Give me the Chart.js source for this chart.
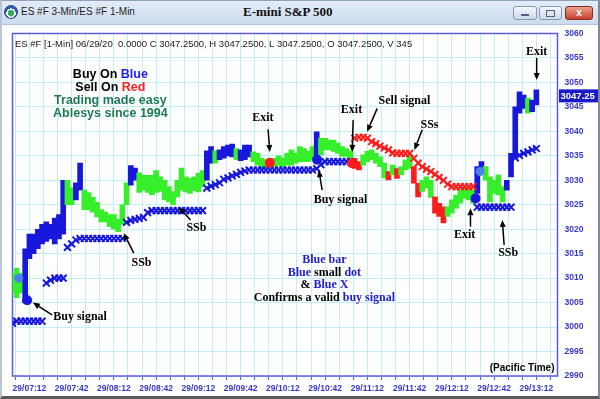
<!DOCTYPE html>
<html>
<head>
<meta charset="utf-8">
<script src="https://cdn.jsdelivr.net/npm/chart.js@4.4.1/dist/chart.umd.min.js"></script>
<style>
  html, body { margin: 0; padding: 0; background: #fff; }
  #win { position: relative; width: 600px; height: 399px; overflow: hidden; background: #fff; }
  #chart { position: absolute; left: 0; top: 0; }
  #titlebar { position: absolute; left: 0; top: 0; width: 600px; height: 24px;
    background: linear-gradient(#e4edf8, #ccdbef); border-bottom: 1px solid #b4c4da;
    font-family: "Liberation Sans", Arial, sans-serif; }
  #icon { position: absolute; left: 4px; top: 5px; width: 12px; height: 12px; border-radius: 50%;
    background: radial-gradient(circle at 50% 60%, #3fae5a 0 35%, #fff 36% 50%, #2b5fb0 51%); border: 1px solid #254a80; }
  #wtitle { position: absolute; left: 21px; top: 0; line-height: 24px; font-size: 10px; color: #1e1e1e; }
  #ctitle { position: absolute; left: 243px; top: 0; line-height: 24px; font-size: 13px; font-weight: bold;
    font-family: "Liberation Serif", "Times New Roman", serif; color: #111; }
  .btn { position: absolute; top: 6px; height: 12px; border: 1px solid #8797b2; border-radius: 3px;
    background: linear-gradient(#f4f7fb, #cfdaea); }
  #bmin { left: 513px; width: 22px; }
  #bmax { left: 539px; width: 21px; }
  #bclose { left: 565px; width: 26px; background: linear-gradient(#eaa08e, #c7402c); border-color: #8b2a1e;
    color: #fff; font-size: 10px; font-weight: bold; text-align: center; line-height: 12px; }
  #bmin::after { content: ""; position: absolute; left: 7px; top: 7px; width: 8px; height: 2px; background: #51627c; }
  #bmax::after { content: ""; position: absolute; left: 6px; top: 3px; width: 7px; height: 5px; border: 1px solid #51627c; }
  #frame { position: absolute; left: 0; top: 0; width: 600px; height: 399px; box-sizing: border-box;
    border-left: 2px solid #b9c6d8; border-right: 2px solid #7f8a99; border-bottom: 3px solid #5a5a5a;
    border-top: 1px solid #8fa0b8; pointer-events: none; }
</style>
</head>
<body>
<div id="win">
  <canvas id="chart" width="600" height="399"></canvas>
  <div id="titlebar">
    <div id="icon"></div>
    <span id="wtitle">ES #F 3-Min/ES #F 1-Min</span>
    <span id="ctitle">E-mini S&amp;P 500</span>
    <div class="btn" id="bmin"></div>
    <div class="btn" id="bmax"></div>
    <div class="btn" id="bclose">x</div>
  </div>
  <div id="frame"></div>
</div>
<script>
// 3-minute bars, minutes after 07:00 (index * 3)
const priceLow = [
  3007, 3006, 3007, 3005, 3014, 3015, 3016, 3017, 3017.5, 3018, 3017, 3018, 3019, 3025, 3025, 3026,
  3028, 3024, 3024, 3023.5, 3022.5, 3021.5, 3021.5, 3020.5, 3020, 3019.5, 3021, 3025, 3029, 3030,
  3027.5, 3028, 3027.5, 3027, 3027.5, 3027.7, 3026, 3025.6, 3025, 3026.6, 3028, 3027.6, 3027.3,
  3027.9, 3027.6, 3028.7, 3030, 3033.5, 3033.5, 3034.2, 3034.5, 3035, 3034.8, 3034.2, 3034, 3034.2,
  3034.8, 3033.8, 3033.1, 3032.4, 3032.4, 3032.8, 3032.8, 3033, 3032.8, 3033.1, 3033.1, 3033.5,
  3033.8, 3033.8, 3033.8, 3034.2, 3033.8, 3035.2, 3036.2, 3036.2, 3035.9, 3035.5, 3034.9, 3034.9,
  3033.5, 3032.4, 3032.1, 3033.1, 3033.8, 3034.2, 3033.5, 3032.8, 3030.5, 3030.1, 3031.1, 3030.4,
  3031.1, 3032.1, 3032.4, 3029.4, 3026.6, 3027.7, 3028.4, 3026.5, 3023.3, 3022.6, 3021.3, 3022.6,
  3023.3, 3024.3, 3025.3, 3026.3, 3026, 3025.3, 3027.3, 3031.4, 3030, 3025.6, 3027.3, 3027, 3025.6,
  3028, 3030.7, 3034.8, 3043.7, 3044.7, 3043.7, 3044, 3045.4
];
const priceHigh = [
  3011, 3012, 3011, 3016, 3019, 3019, 3020, 3021, 3021.5, 3021, 3022.3, 3023, 3030, 3030, 3028.5, 3029.5,
  3033.5, 3028, 3027.5, 3026.5, 3025.5, 3024, 3023.5, 3023, 3023, 3022, 3025, 3029.5, 3033, 3032.5,
  3031.5, 3031, 3031, 3031, 3032, 3030.7, 3030, 3028.7, 3027.7, 3030, 3032.5, 3030.7, 3030.4,
  3030.7, 3031.4, 3032, 3036, 3036.9, 3036, 3036.2, 3036.9, 3037.2, 3037.4, 3036.5, 3036.2, 3037.2,
  3037.2, 3035.8, 3035.5, 3034.5, 3034.2, 3034.5, 3034.5, 3035, 3034.6, 3035.5, 3036.2, 3035.5,
  3036.9, 3036.5, 3035.9, 3036.9, 3039.9, 3038.6, 3038.6, 3038.2, 3038.2, 3037.6, 3036.9, 3036.5,
  3036, 3034.5, 3033.8, 3035.2, 3035.9, 3036.2, 3035.5, 3034.8, 3033.5, 3031.8, 3033.1, 3032.4,
  3032.8, 3034.2, 3035.2, 3032.8, 3029.4, 3030, 3030.7, 3030, 3026.6, 3025.3, 3024.6, 3024.6,
  3026, 3027, 3028, 3028.4, 3028.7, 3028, 3032.8, 3033.8, 3032.8, 3030.7, 3030, 3031.1, 3028.7,
  3030, 3035.5, 3045, 3048.1, 3047.4, 3046.8, 3046.4, 3048.5
];
// g = neutral, b = buy, r = sell
const barState = ('ggg bbbbbbbbbb gg bb ggggggggggg bb gggggggggggggggg bb g bbbb g bbb ggggggggggggggg b ' +
  'gggggggg rr gggggg r g r ggg rr ggg rrr ggggggg bb ggggg bbbbb g bb').replace(/ /g, '').split('');

// trailing stops (X markers) on the same 3-minute grid
const buyStop = [
  3000.8, 3001.2, 3001.2, 3001.2, 3001.2, 3001.2, 3001.2, 3001.2,
  3009, 3009.6, 3010, 3010, 3010,
  3016.3, 3017, 3017.8,
  3018.1, 3018.1, 3018.1, 3018.1, 3018.1, 3018.1, 3018.1, 3018.1, 3018.1, 3018.1, 3018.1,
  3021.4, 3021.8, 3022, 3022.2, 3022.4, 3023.4,
  3023.8, 3023.8, 3023.8, 3023.8, 3023.8, 3023.8, 3023.8, 3023.8, 3023.8, 3023.8, 3023.8, 3023.8, 3023.8,
  3028.4, 3028.8, 3029.1, 3029.5, 3030.2, 3030.5, 3030.9, 3031.2, 3031.6, 3031.9,
  3032.1, 3032.1, 3032.1, 3032.1, 3032.1, 3032.1, 3032.1, 3032.1, 3032.1, 3032.1, 3032.1, 3032.1, 3032.1, 3032.1, 3032.1, 3032.1,
  3032.4, 3033.2,
  3033.8, 3033.8, 3033.8, 3033.8, 3033.8, 3033.8, 3033.8,
  null, null, null, null, null, null, null, null, null, null, null, null, null, null, null,
  null, null, null, null, null, null, null, null, null, null, null, null, null, null,
  3024.5, 3024.5, 3024.5, 3024.5, 3024.5, 3024.5, 3024.5, 3024.5, 3024.5,
  3034.6, 3035.1, 3035.5, 3035.8, 3036.2, 3036.5
];
const sellStop = [
  null, null, null, null, null, null, null, null, null, null, null, null, null, null, null, null, null,
  null, null, null, null, null, null, null, null, null, null, null, null, null, null, null, null, null,
  null, null, null, null, null, null, null, null, null, null, null, null, null, null, null, null, null,
  null, null, null, null, null, null, null, null, null, null, null, null, null, null, null, null, null,
  null, null, null, null, null, null, null, null, null, null, null, null, null,
  3038.6, 3038.8, 3038.8, 3038.6, 3037.9, 3037.5, 3037, 3036.6, 3036.2, 3035.6,
  3035.5, 3035.5, 3035.5, 3035.5, 3034.5, 3033.5, 3032.8, 3032.3, 3031.8, 3031.2,
  3030.6, 3030, 3029.2, 3028.7, 3028.7, 3028.7, 3028.7, 3028.7, 3028.7,
  null, null, null, null, null, null, null, null, null, null, null, null, null, null, null
];

// signal dots
const dotMinutes = [4.4, 10.4, 182.7, 216.3, 241.2, 328.8, 332];
const dotPrices = [3010, 3005.5, 3033.6, 3034.2, 3033.5, 3026.3, 3031.8];
const dotKinds = ['pre', 'buy', 'exit', 'buy', 'exit', 'buy', 'pre'];

const xTickLabels = ['29/07:12', '29/07:42', '29/08:12', '29/08:42', '29/09:12', '29/09:42', '29/10:12',
  '29/10:42', '29/11:12', '29/11:42', '29/12:12', '29/12:42', '29/13:12'];
const lastPrice = 3047.25;
const headerText = 'ES #F [1-Min] 06/29/20  0.0000 C 3047.2500, H 3047.2500, L 3047.2500, O 3047.2500, V 345';

// chart notes: text at (minute, price); arrows tail -> head
const notes = [
  ['Buy signal', 48.0, 3002.0], ['SSb', 91.6, 3013.2], ['SSb', 130.6, 3020.2],
  ['Exit', 177.8, 3042.7], ['Exit', 240.7, 3044.4], ['Sell signal', 278.3, 3046.2],
  ['SSs', 296.1, 3041.3], ['Buy signal', 232.9, 3026.0], ['Exit', 321, 3018.8],
  ['SSb', 352, 3015.1], ['Exit', 372.2, 3056.3]
];
const arrows = [
  [28.1, 3002.5, 14.5, 3005.0], [86.1, 3015.1, 79, 3019.2], [126.4, 3021.9, 118, 3024.5],
  [181.5, 3040.4, 182.7, 3035.8], [241.9, 3042.3, 241.2, 3035.8], [259, 3044.7, 251.8, 3039.9],
  [290.9, 3040.3, 285.4, 3036.2], [219.9, 3028.0, 217.5, 3032.1], [325.2, 3020.5, 325.2, 3024.3],
  [349.1, 3016.8, 347.8, 3021.9], [372.2, 3055.0, 372.2, 3050.5]
];

const BLUE = '#1818dc', GREEN = '#36ef2a', RED = '#ff1c1c', LIGHTBLUE = '#4f7ef0';
const TXTBLUE = '#2020d0', TEAL = '#1c7a55', BLACK = '#000';
const legendLines = [
  [['Buy On ', BLACK], ['Blue', '#1c1cf0']],
  [['Sell On ', BLACK], ['Red', RED]],
  [['Trading made easy', TEAL]],
  [['Ablesys since 1994', TEAL]]
];
const legendPos = [69.5, [3051.7, 3049.0, 3046.3, 3043.6]];
const confirmLines = [
  [['Blue bar', TXTBLUE]],
  [['Blue', TXTBLUE], [' small ', BLACK], ['dot', TXTBLUE]],
  [['& ', BLACK], ['Blue X', TXTBLUE]],
  [['Confirms a valid ', BLACK], ['buy signal', TXTBLUE]]
];
const confirmPos = [221.5, [3013.7, 3011.1, 3008.6, 3006.0]];

const stateColor = { g: GREEN, b: BLUE, r: RED };
const dotColor = { pre: LIGHTBLUE, buy: BLUE, exit: RED };
const GRID = '#c2eef5', AXIS = '#5a5ae2', AXISTEXT = '#3636cc';

const barMinutes = priceLow.map((_, i) => i * 3);
const onGrid = ys => barMinutes.map((t, i) => ({ x: t, y: ys[i] }));

const minorTicks = [];
for (let t = 2; t <= 387; t += 10) minorTicks.push(t);
const yTicks = [];
for (let v = 2990; v <= 3060; v += 2.5) yTicks.push(v);

function richLine(ctx, parts, cx, cy) {
  const total = parts.reduce((w, p) => w + ctx.measureText(p[0]).width, 0);
  let px = cx - total / 2;
  ctx.textAlign = 'left';
  for (const [s, c] of parts) {
    ctx.fillStyle = c;
    ctx.fillText(s, px, cy);
    px += ctx.measureText(s).width;
  }
}

function arrow(ctx, x1, y1, x2, y2) {
  const a = Math.atan2(y2 - y1, x2 - x1);
  const len = 7, half = 3;
  ctx.beginPath();
  ctx.moveTo(x1, y1);
  ctx.lineTo(x2 - len * Math.cos(a), y2 - len * Math.sin(a));
  ctx.stroke();
  ctx.beginPath();
  ctx.moveTo(x2, y2);
  ctx.lineTo(x2 - len * Math.cos(a) + half * Math.sin(a), y2 - len * Math.sin(a) - half * Math.cos(a));
  ctx.lineTo(x2 - len * Math.cos(a) - half * Math.sin(a), y2 - len * Math.sin(a) + half * Math.cos(a));
  ctx.closePath();
  ctx.fill();
}

const framePlugin = {
  id: 'frame',
  beforeDatasetsDraw(chart) {
    const { ctx, chartArea: a } = chart;
    ctx.save();
    ctx.strokeStyle = AXIS;
    ctx.lineWidth = 1.5;
    ctx.strokeRect(a.left, a.top, a.right - a.left, a.bottom - a.top);
    ctx.restore();
  }
};

const notesPlugin = {
  id: 'notes',
  afterDraw(chart) {
    const { ctx, chartArea: a, scales: { x, y } } = chart;
    const serif = '"Liberation Serif", "Times New Roman", serif';
    const sans = '"Liberation Sans", Arial, sans-serif';
    ctx.save();
    ctx.textBaseline = 'middle';

    ctx.font = '9.5px ' + sans;
    ctx.fillStyle = '#1a1a1a';
    ctx.textAlign = 'left';
    ctx.fillText(headerText, a.left + 2.5, a.top + 10.5);

    ctx.font = 'bold 12.5px ' + sans;
    legendLines.forEach((parts, i) =>
      richLine(ctx, parts, x.getPixelForValue(legendPos[0]), y.getPixelForValue(legendPos[1][i])));

    ctx.font = 'bold 12px ' + serif;
    confirmLines.forEach((parts, i) =>
      richLine(ctx, parts, x.getPixelForValue(confirmPos[0]), y.getPixelForValue(confirmPos[1][i])));

    ctx.fillStyle = BLACK;
    ctx.textAlign = 'center';
    for (const [s, t, p] of notes) ctx.fillText(s, x.getPixelForValue(t), y.getPixelForValue(p));

    ctx.strokeStyle = BLACK;
    ctx.lineWidth = 1.5;
    for (const [t1, p1, t2, p2] of arrows) {
      arrow(ctx, x.getPixelForValue(t1), y.getPixelForValue(p1), x.getPixelForValue(t2), y.getPixelForValue(p2));
    }

    ctx.font = 'bold 10px ' + sans;
    ctx.textAlign = 'right';
    ctx.fillText('(Pacific Time)', a.right - 3, a.bottom - 8);

    const py = y.getPixelForValue(lastPrice);
    ctx.fillStyle = '#1a1ac8';
    ctx.fillRect(a.right + 1.5, py - 6.5, chart.width - a.right, 13);
    ctx.fillStyle = '#fff';
    ctx.textAlign = 'left';
    ctx.font = 'bold 9.5px ' + sans;
    ctx.fillText(lastPrice.toFixed(2), a.right + 3, py + 0.5);
    ctx.restore();
  }
};

Chart.defaults.font.family = '"Liberation Sans", Arial, sans-serif';

new Chart(document.getElementById('chart'), {
  type: 'bar',
  data: {
    datasets: [
      {
        type: 'scatter',
        data: dotMinutes.map((t, i) => ({ x: t, y: dotPrices[i] })),
        pointRadius: dotKinds.map(k => (k === 'pre' ? 4.5 : 5)),
        pointBackgroundColor: dotKinds.map(k => dotColor[k]),
        pointBorderWidth: 0,
        order: 0
      },
      {
        type: 'line',
        data: onGrid(buyStop),
        showLine: false,
        pointStyle: 'crossRot',
        pointRadius: 4.8,
        pointBorderWidth: 2,
        pointBorderColor: BLUE,
        borderColor: BLUE,
        order: 1
      },
      {
        type: 'line',
        data: onGrid(sellStop),
        showLine: false,
        pointStyle: 'crossRot',
        pointRadius: 4.8,
        pointBorderWidth: 2,
        pointBorderColor: RED,
        borderColor: RED,
        order: 2
      },
      {
        type: 'bar',
        data: barMinutes.map((t, i) => ({ x: t, y: [priceLow[i], priceHigh[i]] })),
        backgroundColor: barState.map(s => stateColor[s]),
        barThickness: 5,
        borderSkipped: false,
        order: 3
      }
    ]
  },
  options: {
    responsive: false,
    animation: false,
    events: [],
    layout: { padding: { left: 12.5, right: 0, top: 33.5, bottom: 3.5 } },
    plugins: { legend: { display: false }, tooltip: { enabled: false } },
    scales: {
      x: {
        type: 'linear',
        min: 0,
        max: 387,
        offset: false,
        grid: { color: GRID, offset: false, drawTicks: true, tickLength: 4, tickColor: AXIS },
        border: { display: false },
        afterBuildTicks: s => { s.ticks = minorTicks.map(v => ({ value: v })); },
        afterFit: s => { s.height = 19.5; },
        ticks: {
          autoSkip: false,
          maxRotation: 0,
          padding: 4,
          color: AXISTEXT,
          font: { size: 8.5, weight: 'bold' },
          callback: v => ((v - 12) % 30 === 0 ? xTickLabels[(v - 12) / 30] : '')
        }
      },
      y: {
        position: 'right',
        min: 2990,
        max: 3060,
        grid: { color: GRID, drawTicks: false },
        border: { display: false },
        afterBuildTicks: s => { s.ticks = yTicks.map(v => ({ value: v })); },
        afterFit: s => { s.width = 42.5; },
        ticks: {
          padding: 7,
          color: AXISTEXT,
          font: { size: 8.5, weight: 'bold' },
          callback: v => (v % 5 === 0 ? String(v) : '')
        }
      }
    }
  },
  plugins: [framePlugin, notesPlugin]
});
</script>
</body>
</html>
